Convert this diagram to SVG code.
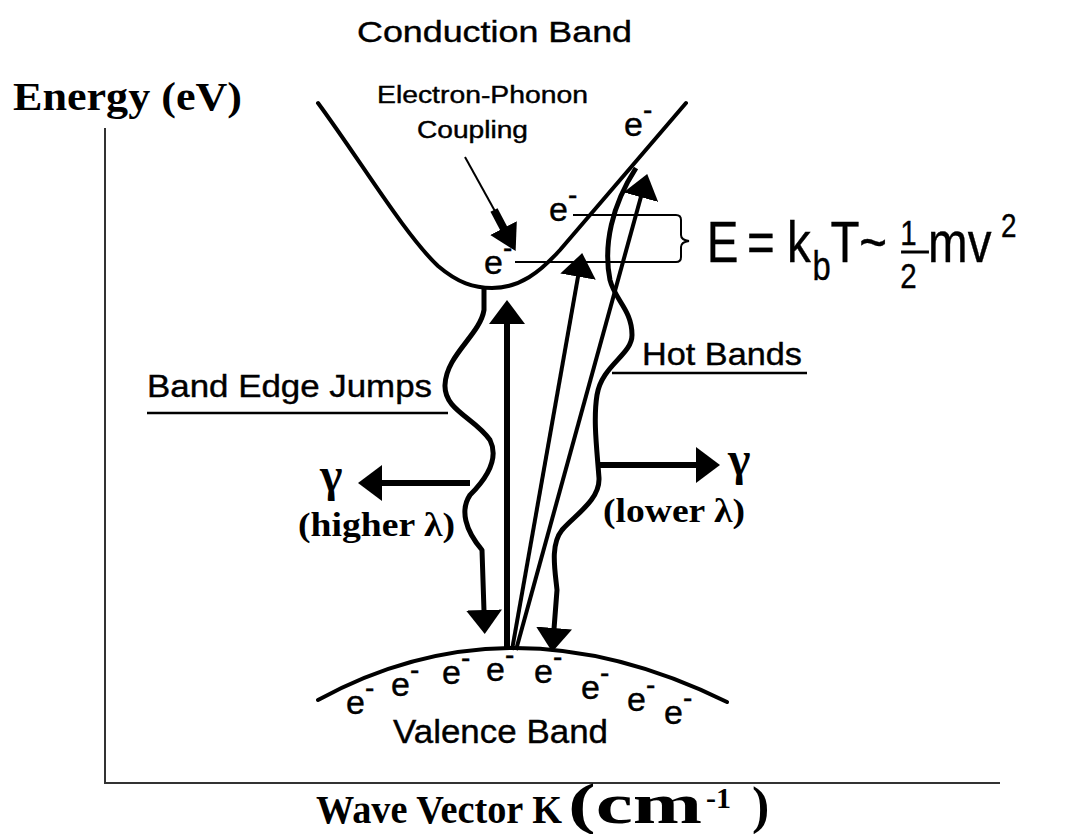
<svg xmlns="http://www.w3.org/2000/svg" width="1073" height="834" viewBox="0 0 1073 834">
<style>
.sans{font-family:"Liberation Sans",Arial,sans-serif;fill:#000;stroke:#000;stroke-width:0.4}
.serif{font-family:"Liberation Serif","Times New Roman",serif;font-weight:bold;fill:#000}
.band{fill:none;stroke:#000;stroke-width:4;stroke-linecap:round;stroke-linejoin:round}
.wavy{fill:none;stroke:#000;stroke-width:5;stroke-linejoin:round}
.thin{fill:none;stroke:#000;stroke-width:2}
.axis{fill:none;stroke:#333;stroke-width:2}
.e{font-size:34px}
.m{font-size:28px}
</style>
<defs>
<marker id="head" markerUnits="userSpaceOnUse" markerWidth="24" markerHeight="36" viewBox="0 0 24 36" refX="1" refY="18" orient="auto">
<path d="M0,0 L24,18 L0,36 Z" fill="#000"/>
</marker>
<marker id="headS" markerUnits="userSpaceOnUse" markerWidth="26" markerHeight="30" viewBox="0 0 26 30" refX="1" refY="15" orient="auto">
<path d="M0,0 L26,15 L0,30 Z" fill="#000"/>
</marker>
</defs>
<rect width="1073" height="834" fill="#fff"/>

<g id="axes">
<line class="axis" x1="105" y1="128" x2="105" y2="783"/>
<line class="axis" x1="104" y1="783" x2="1000" y2="783"/>
<text class="serif" x="13" y="110" font-size="40" textLength="229" lengthAdjust="spacingAndGlyphs">Energy (eV)</text>
<text class="serif" x="316" y="823" font-size="40" textLength="246" lengthAdjust="spacingAndGlyphs">Wave Vector K</text>
<text class="serif" x="568" y="823" font-size="56" textLength="134" lengthAdjust="spacingAndGlyphs">(cm</text>
<text class="serif" x="706" y="808" font-size="30">-1</text>
<text class="serif" x="752" y="823" font-size="52">)</text>
</g>

<g id="conduction-band">
<text class="sans" x="357" y="42" font-size="30" textLength="275" lengthAdjust="spacingAndGlyphs">Conduction Band</text>
<path class="band" d="M318,103 C360,160 405,235 438,266 C458,283 474,288 492,288 C520,288 540,272 560,250 L686,103"/>
<text class="sans e" x="624" y="136">e<tspan class="m" dy="-17">-</tspan></text>
<text class="sans e" x="549" y="221">e<tspan class="m" dy="-17">-</tspan></text>
<text class="sans e" x="484" y="274">e<tspan class="m" dy="-17">-</tspan></text>
</g>

<g id="valence-band">
<path class="band" d="M318,700 Q510,595 727,702"/>
<text class="sans" x="393" y="743" font-size="34" textLength="215" lengthAdjust="spacingAndGlyphs">Valence Band</text>
<text class="sans e" x="346" y="714">e<tspan class="m" dy="-17">-</tspan></text>
<text class="sans e" x="391" y="696">e<tspan class="m" dy="-17">-</tspan></text>
<text class="sans e" x="442" y="684">e<tspan class="m" dy="-17">-</tspan></text>
<text class="sans e" x="486" y="681">e<tspan class="m" dy="-17">-</tspan></text>
<text class="sans e" x="534" y="683">e<tspan class="m" dy="-17">-</tspan></text>
<text class="sans e" x="581" y="699">e<tspan class="m" dy="-17">-</tspan></text>
<text class="sans e" x="627" y="711">e<tspan class="m" dy="-17">-</tspan></text>
<text class="sans e" x="664" y="724">e<tspan class="m" dy="-17">-</tspan></text>
</g>

<g id="electron-phonon">
<text class="sans" x="377" y="103" font-size="23" textLength="211" lengthAdjust="spacingAndGlyphs">Electron-Phonon</text>
<text class="sans" x="417" y="138" font-size="23" textLength="111" lengthAdjust="spacingAndGlyphs">Coupling</text>
</g>

<g id="energy-formula">
<path class="thin" d="M573,215 H676 Q681,215 681,220 V235 Q681,240 689,241 Q681,242 681,247 V257 Q681,262 676,262 H515"/>
<g transform="translate(710,262) scale(0.82,1)">
<text class="sans" x="-4" y="0" font-size="58">E</text>
<text class="sans" x="45" y="0" font-size="58">=</text>
<text class="sans" x="94" y="0" font-size="58">k</text>
<text class="sans" x="125" y="18" font-size="40">b</text>
<text class="sans" x="147" y="0" font-size="58">T</text>
<text class="sans" x="182" y="0" font-size="58">~</text>
<text class="sans" x="232" y="-17" font-size="36">1</text>
<line x1="233" y1="-10" x2="267" y2="-10" stroke="#000" stroke-width="3"/>
<text class="sans" x="232" y="26" font-size="36">2</text>
<text class="sans" x="266" y="0" font-size="58">mv</text>
<text class="sans" x="355" y="-25" font-size="34">2</text>
</g>
</g>

<g id="band-edge-jumps">
<text class="sans" x="147" y="397" font-size="31" textLength="285" lengthAdjust="spacingAndGlyphs">Band Edge Jumps</text>
<line x1="147" y1="413" x2="448" y2="413" stroke="#000" stroke-width="2.5"/>
<text class="serif" x="320" y="491" font-size="48">γ</text>
<text class="serif" x="298" y="536" font-size="34" textLength="157" lengthAdjust="spacingAndGlyphs">(higher λ)</text>
</g>

<g id="hot-bands">
<text class="sans" x="642" y="365" font-size="32" textLength="160" lengthAdjust="spacingAndGlyphs">Hot Bands</text>
<line x1="612" y1="373" x2="807" y2="373" stroke="#000" stroke-width="2.5"/>
<text class="serif" x="728" y="475" font-size="48">γ</text>
<text class="serif" x="603" y="522" font-size="34" textLength="142" lengthAdjust="spacingAndGlyphs">(lower λ)</text>
</g>

<g id="connectors">
<line x1="465" y1="157" x2="496" y2="213" stroke="#000" stroke-width="2"/>
<line x1="494" y1="210" x2="504" y2="229" stroke="#000" stroke-width="8" marker-end="url(#headS)"/>
<line x1="507" y1="650" x2="507" y2="323" stroke="#000" stroke-width="6" marker-end="url(#head)"/>
<line x1="512" y1="650" x2="578.2" y2="275.7" stroke="#000" stroke-width="4" marker-end="url(#head)"/>
<line x1="516" y1="650" x2="641.1" y2="196.2" stroke="#000" stroke-width="4" marker-end="url(#head)"/>
<path class="wavy" d="M484,288 L484,310 C480,335 446,355 445,385 C444,410 475,418 490,440 C500,460 485,480 470,495 C460,510 465,530 482,550 L484,611" marker-end="url(#head)"/>
<path class="wavy" d="M636,168 C612,205 603,245 610,280 C615,300 632,310 632,335 C632,355 602,365 597,395 C593,420 597,450 599,478 C600,500 575,515 562,530 C550,545 555,570 557,590 L554,629" marker-end="url(#head)"/>
<line x1="470" y1="483" x2="381" y2="483" stroke="#000" stroke-width="6" marker-end="url(#head)"/>
<line x1="598" y1="465" x2="697" y2="465" stroke="#000" stroke-width="6" marker-end="url(#head)"/>
</g>
</svg>
